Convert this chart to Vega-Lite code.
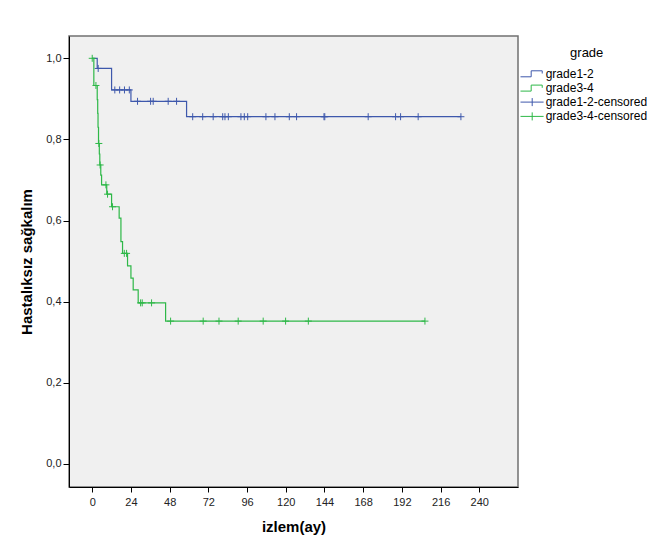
{
  "$schema": "https://vega.github.io/schema/vega-lite/v6.json",
  "autosize": "none",
  "width": 449,
  "height": 451,
  "padding": {"left": 69, "top": 36, "right": 141, "bottom": 58},
  "background": "white",
  "config": {
    "font": "Liberation Sans",
    "view": {"fill": "#f0f0f0", "stroke": "#707070", "strokeWidth": 1.5},
    "axis": {"grid": false, "domainColor": "#000", "domainWidth": 1, "tickColor": "#000", "tickSize": 5, "tickWidth": 1,
      "labelFont": "Liberation Sans", "labelFontSize": 11, "labelColor": "#222",
      "titleFont": "Liberation Sans", "titleFontSize": 15, "titleFontWeight": "bold", "titleColor": "#000"}
  },
  "datasets": {
    "curve": [
      {"grp": "grade1-2", "t": 0, "s": 1.0},
      {"grp": "grade1-2", "t": 3.1, "s": 0.975},
      {"grp": "grade1-2", "t": 12.0, "s": 0.922},
      {"grp": "grade1-2", "t": 24.0, "s": 0.894},
      {"grp": "grade1-2", "t": 58.5, "s": 0.856},
      {"grp": "grade1-2", "t": 228.6, "s": 0.856},
      {"grp": "grade3-4", "t": 0, "s": 1.0},
      {"grp": "grade3-4", "t": 1.0, "s": 0.933},
      {"grp": "grade3-4", "t": 3.1, "s": 0.898},
      {"grp": "grade3-4", "t": 3.4, "s": 0.864},
      {"grp": "grade3-4", "t": 3.6, "s": 0.830},
      {"grp": "grade3-4", "t": 3.9, "s": 0.790},
      {"grp": "grade3-4", "t": 4.4, "s": 0.764},
      {"grp": "grade3-4", "t": 4.7, "s": 0.737},
      {"grp": "grade3-4", "t": 5.3, "s": 0.712},
      {"grp": "grade3-4", "t": 5.8, "s": 0.688},
      {"grp": "grade3-4", "t": 9.0, "s": 0.665},
      {"grp": "grade3-4", "t": 12.0, "s": 0.634},
      {"grp": "grade3-4", "t": 16.7, "s": 0.606},
      {"grp": "grade3-4", "t": 17.8, "s": 0.548},
      {"grp": "grade3-4", "t": 18.8, "s": 0.519},
      {"grp": "grade3-4", "t": 21.9, "s": 0.488},
      {"grp": "grade3-4", "t": 24.0, "s": 0.458},
      {"grp": "grade3-4", "t": 25.4, "s": 0.429},
      {"grp": "grade3-4", "t": 28.5, "s": 0.397},
      {"grp": "grade3-4", "t": 45.5, "s": 0.352},
      {"grp": "grade3-4", "t": 206.3, "s": 0.352}
    ],
    "cens": [
      {"grp": "grade1-2-censored", "t": 3.7, "s": 0.975},
      {"grp": "grade1-2-censored", "t": 14.0, "s": 0.922},
      {"grp": "grade1-2-censored", "t": 17.0, "s": 0.922},
      {"grp": "grade1-2-censored", "t": 20.0, "s": 0.922},
      {"grp": "grade1-2-censored", "t": 23.0, "s": 0.922},
      {"grp": "grade1-2-censored", "t": 28.1, "s": 0.894},
      {"grp": "grade1-2-censored", "t": 36.2, "s": 0.894},
      {"grp": "grade1-2-censored", "t": 37.8, "s": 0.894},
      {"grp": "grade1-2-censored", "t": 47.1, "s": 0.894},
      {"grp": "grade1-2-censored", "t": 52.3, "s": 0.894},
      {"grp": "grade1-2-censored", "t": 62.3, "s": 0.856},
      {"grp": "grade1-2-censored", "t": 68.5, "s": 0.856},
      {"grp": "grade1-2-censored", "t": 75.0, "s": 0.856},
      {"grp": "grade1-2-censored", "t": 80.9, "s": 0.856},
      {"grp": "grade1-2-censored", "t": 82.3, "s": 0.856},
      {"grp": "grade1-2-censored", "t": 84.4, "s": 0.856},
      {"grp": "grade1-2-censored", "t": 92.2, "s": 0.856},
      {"grp": "grade1-2-censored", "t": 94.3, "s": 0.856},
      {"grp": "grade1-2-censored", "t": 96.4, "s": 0.856},
      {"grp": "grade1-2-censored", "t": 107.7, "s": 0.856},
      {"grp": "grade1-2-censored", "t": 113.3, "s": 0.856},
      {"grp": "grade1-2-censored", "t": 122.2, "s": 0.856},
      {"grp": "grade1-2-censored", "t": 126.7, "s": 0.856},
      {"grp": "grade1-2-censored", "t": 143.7, "s": 0.856},
      {"grp": "grade1-2-censored", "t": 144.2, "s": 0.856},
      {"grp": "grade1-2-censored", "t": 171.1, "s": 0.856},
      {"grp": "grade1-2-censored", "t": 188.1, "s": 0.856},
      {"grp": "grade1-2-censored", "t": 191.2, "s": 0.856},
      {"grp": "grade1-2-censored", "t": 202.1, "s": 0.856},
      {"grp": "grade1-2-censored", "t": 228.6, "s": 0.856},
      {"grp": "grade3-4-censored", "t": 0, "s": 1.0},
      {"grp": "grade3-4-censored", "t": 2.3, "s": 0.933},
      {"grp": "grade3-4-censored", "t": 4.1, "s": 0.790},
      {"grp": "grade3-4-censored", "t": 4.9, "s": 0.737},
      {"grp": "grade3-4-censored", "t": 8.5, "s": 0.688},
      {"grp": "grade3-4-censored", "t": 9.5, "s": 0.665},
      {"grp": "grade3-4-censored", "t": 12.6, "s": 0.634},
      {"grp": "grade3-4-censored", "t": 19.9, "s": 0.519},
      {"grp": "grade3-4-censored", "t": 21.3, "s": 0.519},
      {"grp": "grade3-4-censored", "t": 30.0, "s": 0.397},
      {"grp": "grade3-4-censored", "t": 31.0, "s": 0.397},
      {"grp": "grade3-4-censored", "t": 36.8, "s": 0.397},
      {"grp": "grade3-4-censored", "t": 48.6, "s": 0.352},
      {"grp": "grade3-4-censored", "t": 68.8, "s": 0.352},
      {"grp": "grade3-4-censored", "t": 78.6, "s": 0.352},
      {"grp": "grade3-4-censored", "t": 90.5, "s": 0.352},
      {"grp": "grade3-4-censored", "t": 106.0, "s": 0.352},
      {"grp": "grade3-4-censored", "t": 119.9, "s": 0.352},
      {"grp": "grade3-4-censored", "t": 134.0, "s": 0.352},
      {"grp": "grade3-4-censored", "t": 206.3, "s": 0.352}
    ]
  },
  "encoding": {
    "x": {"field": "t", "type": "quantitative",
      "scale": {"domain": [-14.4, 264], "nice": false, "zero": false},
      "axis": {"title": "izlem(ay)", "values": [0, 24, 48, 72, 96, 120, 144, 168, 192, 216, 240], "labelPadding": 4, "titlePadding": 12}},
    "y": {"field": "s", "type": "quantitative",
      "scale": {"domain": [-0.057, 1.055], "nice": false, "zero": false},
      "axis": {"title": "Hastalıksız sağkalım", "values": [0, 0.2, 0.4, 0.6, 0.8, 1.0], "tickSize": 6, "labelPadding": 2,
        "labelExpr": "replace(format(datum.value, '.1f'), '.', ',')", "titlePadding": 11}}
  },
  "layer": [
    {
      "data": {"name": "curve"},
      "mark": {"type": "line", "interpolate": "step-after", "strokeWidth": 1.2},
      "encoding": {
        "color": {"field": "grp", "type": "nominal",
          "scale": {"domain": ["grade1-2", "grade3-4", "grade1-2-censored", "grade3-4-censored"], "range": ["#3e58ac", "#2eb848", "#3e58ac", "#2eb848"]},
          "legend": {"title": "grade", "orient": "none", "legendX": 456.7, "legendY": 11, "padding": 0,
            "titleFont": "Liberation Sans", "titleFontSize": 13, "titleFontWeight": "normal", "titleColor": "#000", "titleAnchor": "middle", "titlePadding": 7,
            "labelFont": "Liberation Sans", "labelFontSize": 12, "labelColor": "#000", "labelOffset": 7, "symbolSize": 144, "rowPadding": 1.3,
            "encode": {"symbols": {"update": {
              "shape": {"signal": "indexof(datum.value, 'censored') >= 0 ? 'M-1.95,0L1.9,0M0,-0.67L0,0.67' : 'M-1.95,0.55L-0.17,0.55L-0.17,-0.45L1.67,-0.45L1.67,0'"},
              "fill": {"value": "transparent"},
              "strokeWidth": {"value": 1}}}}}},
        "detail": {"field": "grp"},
        "order": {"field": "t", "type": "quantitative"}
      }
    },
    {
      "data": {"name": "cens"},
      "mark": {"type": "point", "shape": "M-1,0L1,0M0,-1L0,1", "filled": false, "size": 49, "strokeWidth": 1, "opacity": 1},
      "encoding": {
        "color": {"field": "grp", "type": "nominal",
          "scale": {"domain": ["grade1-2", "grade3-4", "grade1-2-censored", "grade3-4-censored"], "range": ["#3e58ac", "#2eb848", "#3e58ac", "#2eb848"]},
          "legend": {"title": "grade", "orient": "none", "legendX": 456.7, "legendY": 11, "padding": 0,
            "titleFont": "Liberation Sans", "titleFontSize": 13, "titleFontWeight": "normal", "titleColor": "#000", "titleAnchor": "middle", "titlePadding": 7,
            "labelFont": "Liberation Sans", "labelFontSize": 12, "labelColor": "#000", "labelOffset": 7, "symbolSize": 144, "rowPadding": 1.3,
            "encode": {"symbols": {"update": {
              "shape": {"signal": "indexof(datum.value, 'censored') >= 0 ? 'M-1.95,0L1.9,0M0,-0.67L0,0.67' : 'M-1.95,0.55L-0.17,0.55L-0.17,-0.45L1.67,-0.45L1.67,0'"},
              "fill": {"value": "transparent"},
              "strokeWidth": {"value": 1}}}}}}
      }
    }
  ]
}
